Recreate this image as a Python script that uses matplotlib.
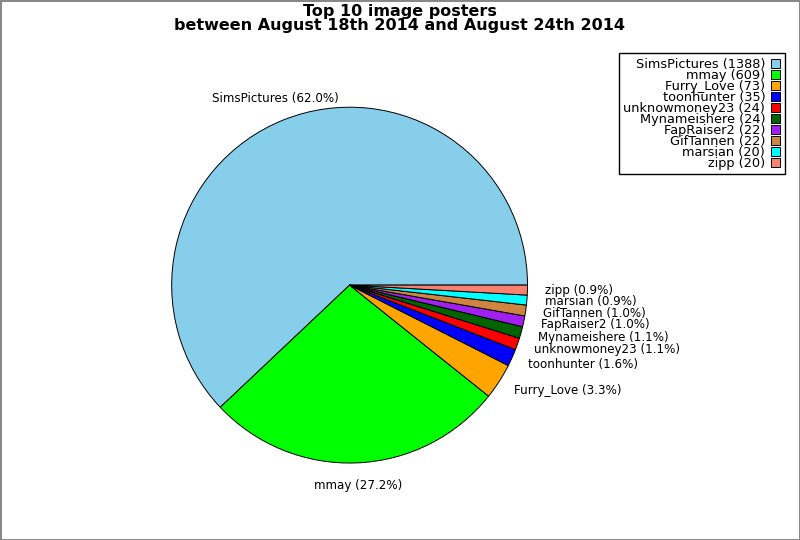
import math
import matplotlib
matplotlib.use('Agg')
import matplotlib.pyplot as plt

# data
posters = ['SimsPictures', 'mmay', 'Furry_Love', 'toonhunter', 'unknowmoney23',
           'Mynameishere', 'FapRaiser2', 'GifTannen', 'marsian', 'zipp']
counts = [1388, 609, 73, 35, 24, 24, 22, 22, 20, 20]
colors = ['skyblue', 'lime', 'orange', 'blue', 'red',
          'darkgreen', '#a020f0', 'peru', 'cyan', 'salmon']

total = sum(counts)
pie_labels = [f"{n} ({100.0 * c / total:.1f}%)" for n, c in zip(posters, counts)]
legend_labels = [f"{n} ({c})" for n, c in zip(posters, counts)]

fig = plt.figure(figsize=(8, 5.4), dpi=100)
fig.patch.set_edgecolor('#888888')
fig.patch.set_linewidth(2)

ax = fig.add_axes([0.159, 0.060, 0.556, 0.824])
wedges, texts = ax.pie(counts, labels=pie_labels, colors=colors,
                       startangle=0, counterclock=True,
                       wedgeprops=dict(edgecolor='black', linewidth=0.7),
                       textprops=dict(fontsize=8.6))
ax.set_aspect('equal')

# the two big slices have their labels centred a bit further out
for w, t, c in zip(wedges, texts, counts):
    if c / total > 0.2:
        mid = math.radians((w.theta1 + w.theta2) / 2)
        t.set_position((1.13 * math.cos(mid), 1.13 * math.sin(mid)))
        t.set_ha('center')

fig.suptitle("Top 10 image posters\nbetween August 18th 2014 and August 24th 2014",
             fontsize=11.5, weight='bold', y=0.993, x=0.5, linespacing=0.92)

leg = fig.legend(wedges, legend_labels, loc='upper right',
                 bbox_to_anchor=(0.989, 0.913), fontsize=9.3,
                 markerfirst=False, labelspacing=-0.155, handlelength=0.7,
                 handleheight=0.7, handletextpad=0.45, borderpad=0.35,
                 fancybox=False, framealpha=1, edgecolor='black')
leg.get_frame().set_linewidth(1)
for t in leg.get_texts():
    t.set_ha('right')

fig.savefig('out.png', dpi=100, edgecolor=fig.get_edgecolor())
